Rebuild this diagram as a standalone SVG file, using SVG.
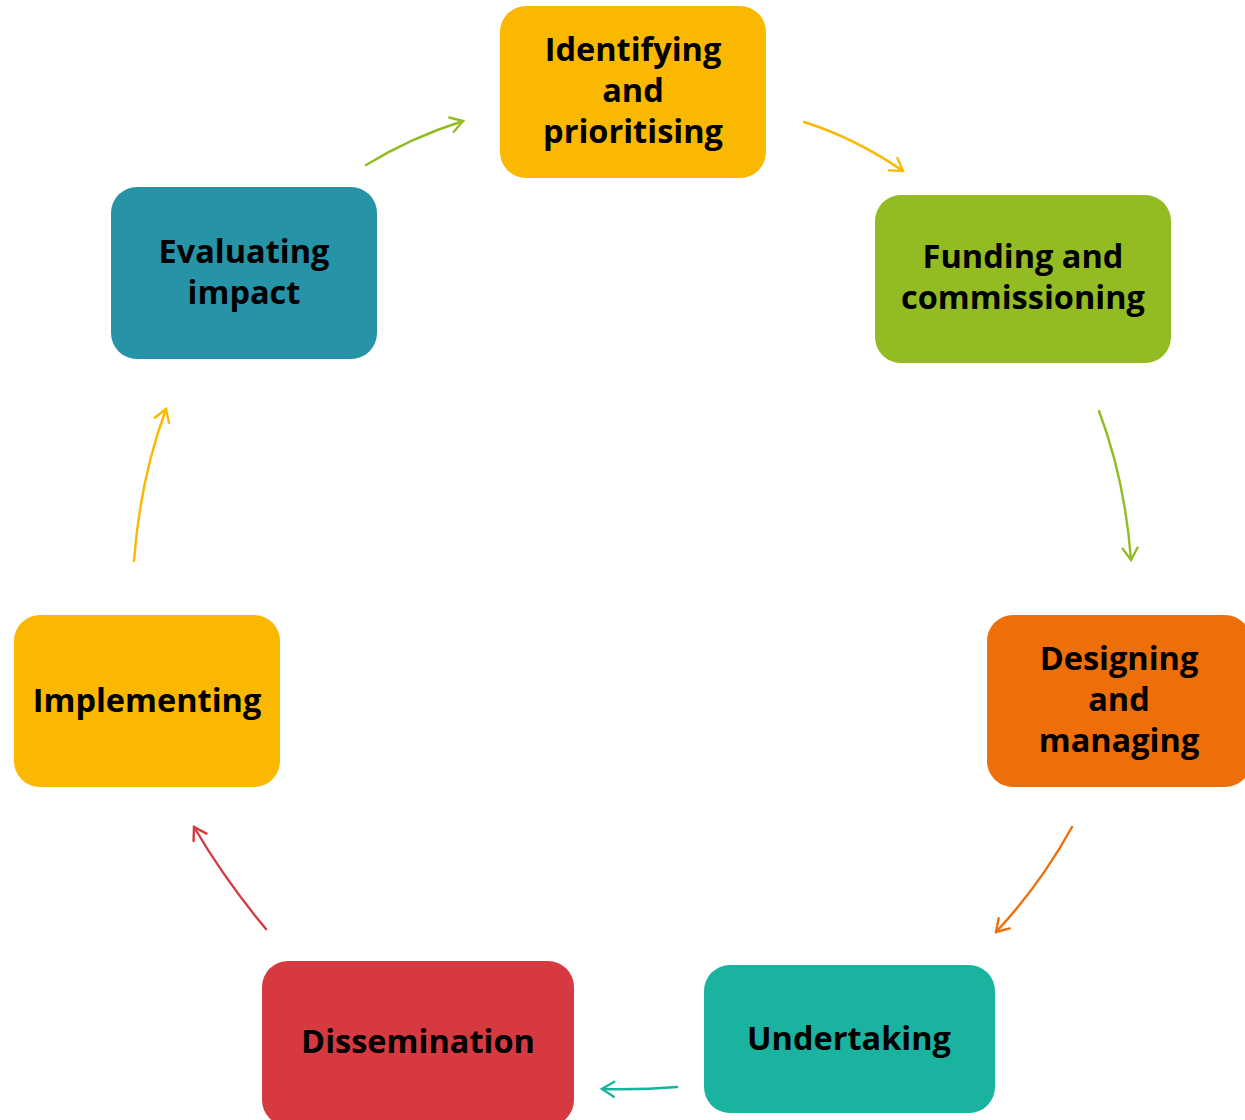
<svg xmlns="http://www.w3.org/2000/svg" width="1245" height="1120" viewBox="0 0 1245 1120">
<style>
.lbl{font-family:"Open Sans","Noto Sans","DejaVu Sans",sans-serif;font-weight:700;font-size:32.5px;fill:#000;text-anchor:middle}
.c{fill:none;stroke-width:2.4;stroke-linecap:round}
</style>
<defs>
<marker id="mG" viewBox="-14 -9 16 18" refX="0" refY="0" markerWidth="16" markerHeight="18" markerUnits="userSpaceOnUse" orient="auto"><path d="M-12,-7.5 L0,0 L-12,7.5" fill="none" stroke="#92BC22" stroke-width="2.4" stroke-linecap="round"/></marker>
<marker id="mA" viewBox="-14 -9 16 18" refX="0" refY="0" markerWidth="16" markerHeight="18" markerUnits="userSpaceOnUse" orient="auto"><path d="M-12,-7.5 L0,0 L-12,7.5" fill="none" stroke="#FAB800" stroke-width="2.4" stroke-linecap="round"/></marker>
<marker id="mO" viewBox="-14 -9 16 18" refX="0" refY="0" markerWidth="16" markerHeight="18" markerUnits="userSpaceOnUse" orient="auto"><path d="M-12,-7.5 L0,0 L-12,7.5" fill="none" stroke="#EE6E0A" stroke-width="2.4" stroke-linecap="round"/></marker>
<marker id="mT" viewBox="-14 -9 16 18" refX="0" refY="0" markerWidth="16" markerHeight="18" markerUnits="userSpaceOnUse" orient="auto"><path d="M-12,-7.5 L0,0 L-12,7.5" fill="none" stroke="#19B39F" stroke-width="2.4" stroke-linecap="round"/></marker>
<marker id="mR" viewBox="-14 -9 16 18" refX="0" refY="0" markerWidth="16" markerHeight="18" markerUnits="userSpaceOnUse" orient="auto"><path d="M-12,-7.5 L0,0 L-12,7.5" fill="none" stroke="#D63A40" stroke-width="2.4" stroke-linecap="round"/></marker>
</defs>
<rect width="1245" height="1120" fill="#fff"/>
<g id="connectors">
<path class="c" stroke="#92BC22" marker-end="url(#mG)" d="M366,165 Q410,138 463,121"/>
<path class="c" stroke="#FAB800" marker-end="url(#mA)" d="M804,122 Q855,138 903,171"/>
<path class="c" stroke="#92BC22" marker-end="url(#mG)" d="M1099,411 Q1125,480 1131,560"/>
<path class="c" stroke="#EE6E0A" marker-end="url(#mO)" d="M1072,827 Q1040,885 996,932"/>
<path class="c" stroke="#19B39F" marker-end="url(#mT)" d="M677,1087 Q640,1090 602,1089"/>
<path class="c" stroke="#D63A40" marker-end="url(#mR)" d="M266,929 Q225,880 194,827"/>
<path class="c" stroke="#FAB800" marker-end="url(#mA)" d="M134,561 Q140,480 166,409"/>
</g>
<g id="identifying">
<rect x="500" y="6" width="266" height="172" rx="26" fill="#FAB800"/>
<text class="lbl" x="633" y="61">Identifying</text>
<text class="lbl" x="633" y="102">and</text>
<text class="lbl" x="633" y="143">prioritising</text>
</g>
<g id="funding">
<rect x="875" y="195" width="296" height="168" rx="26" fill="#92BC22"/>
<text class="lbl" x="1023" y="268">Funding and</text>
<text class="lbl" x="1023" y="309">commissioning</text>
</g>
<g id="designing">
<rect x="987" y="615" width="264" height="172" rx="26" fill="#EE6E0A"/>
<text class="lbl" x="1119" y="670">Designing</text>
<text class="lbl" x="1119" y="711">and</text>
<text class="lbl" x="1119" y="752">managing</text>
</g>
<g id="undertaking">
<rect x="704" y="965" width="291" height="148" rx="26" fill="#19B39F"/>
<text class="lbl" x="849" y="1050">Undertaking</text>
</g>
<g id="dissemination">
<rect x="262" y="961" width="312" height="165" rx="26" fill="#D63A40"/>
<text class="lbl" x="418" y="1053">Dissemination</text>
</g>
<g id="implementing">
<rect x="14" y="615" width="266" height="172" rx="26" fill="#FAB800"/>
<text class="lbl" x="147" y="712">Implementing</text>
</g>
<g id="evaluating">
<rect x="111" y="187" width="266" height="172" rx="26" fill="#2693A6"/>
<text class="lbl" x="244" y="263">Evaluating</text>
<text class="lbl" x="244" y="304">impact</text>
</g>
</svg>
